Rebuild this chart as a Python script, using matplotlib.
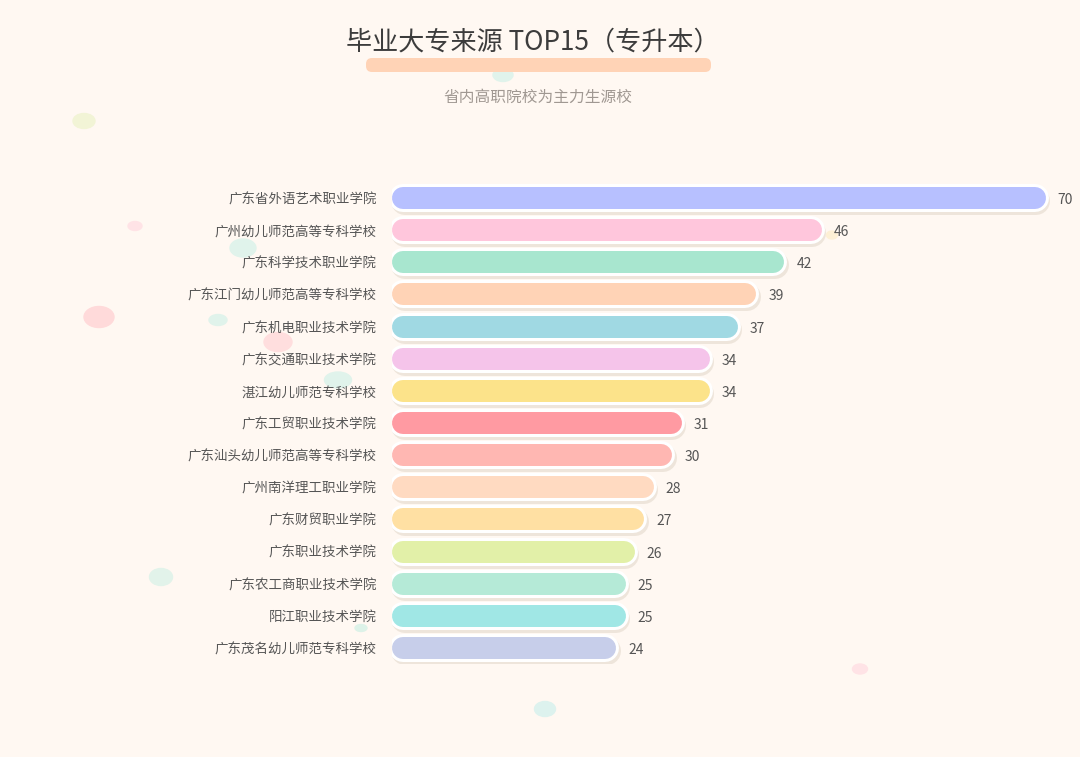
import numpy as np
import matplotlib
matplotlib.use("Agg")
import matplotlib.pyplot as plt
from matplotlib.patches import Ellipse, FancyBboxPatch

plt.rcParams['font.family'] = ['Noto Sans CJK SC', 'DejaVu Sans']

# 数据
schools = [
    "广东省外语艺术职业学院", "广州幼儿师范高等专科学校", "广东科学技术职业学院",
    "广东江门幼儿师范高等专科学校", "广东机电职业技术学院", "广东交通职业技术学院",
    "湛江幼儿师范专科学校", "广东工贸职业技术学院", "广东汕头幼儿师范高等专科学校",
    "广州南洋理工职业学院", "广东财贸职业学院", "广东职业技术学院",
    "广东农工商职业技术学院", "阳江职业技术学院", "广东茂名幼儿师范专科学校",
]
counts = [70, 46, 42, 39, 37, 34, 34, 31, 30, 28, 27, 26, 25, 25, 24]
bar_colors = [
    "#B7C0FF", "#FFC6DC", "#A8E6CF", "#FFD3B6", "#A0D9E3", "#F5C4EA",
    "#FCE38A", "#FF9AA2", "#FFB7B2", "#FFDAC1", "#FFE0A3", "#E2F0A8",
    "#B5EAD7", "#A0E7E5", "#C7CEEA",
]

title = "毕业大专来源 TOP15（专升本）"
subtitle = "省内高职院校为主力生源校"

BG = "#FFF8F2"
W, H = 1080, 757
fig = plt.figure(figsize=(W / 100, H / 100), dpi=100, facecolor=BG)

# 背景装饰层（像素坐标）
bg = fig.add_axes([0, 0, 1, 1], zorder=0)
bg.set_xlim(0, W)
bg.set_ylim(H, 0)
bg.axis("off")
bg.set_facecolor(BG)

bubbles = [
    (503, 75, 20, 13, "#E0F3EB"), (84, 121, 22, 15, "#F2F4D6"),
    (135, 226, 14, 9, "#FFE3E6"), (243, 248, 26, 18, "#E0F3EB"),
    (99, 317, 30, 21, "#FFDADA"), (218, 320, 18, 11, "#E0F3EB"),
    (278, 342, 28, 19, "#FFDEDE"), (338, 380, 27, 16, "#E0F3EB"),
    (832, 235, 11, 8, "#FDF0D5"), (161, 577, 23, 17, "#E2F3EA"),
    (860, 669, 15, 10, "#FFE3E6"), (545, 709, 21, 15, "#DDF2EE"),
    (361, 628, 12, 7, "#DDF2E8"),
]
for x, y, w, h, c in bubbles:
    bg.add_patch(Ellipse((x, y), w, h, facecolor=c, edgecolor=c, lw=1, zorder=1))

bg.add_patch(FancyBboxPatch((366, 58), 345, 14, boxstyle="round,pad=0,rounding_size=6",
                            facecolor="#FFD3B6", edgecolor="none", zorder=2))
bg.text(533, 42, title, ha="center", va="center", fontsize=18.8, color="#3C3C3C", zorder=3)
bg.text(538, 97, subtitle, ha="center", va="center", fontsize=11.3, color="#A09892", zorder=3)

# 主图
px_per_unit = 9.34
x_max = 73
left_px, top_px, bottom_px = 392, 182, 664
ax = fig.add_axes([left_px / W, 1 - bottom_px / H, x_max * px_per_unit / W,
                   (bottom_px - top_px) / H], zorder=1)
ax.set_facecolor("none")
ax.set_xlim(0, x_max)
ax.set_ylim(len(counts) - 0.5, -0.5)
for s in ax.spines.values():
    s.set_visible(False)
ax.set_xticks([])
ax.set_yticks(range(len(schools)))
ax.set_yticklabels(schools, fontsize=9.7, color="#555555")
ax.tick_params(axis="y", length=0, pad=11)

r_px = 11
r = r_px / px_per_unit
row_px = (bottom_px - top_px) / len(counts)
shadow_dy = 3 / row_px
shadow_dx = 1.5 / px_per_unit
for i, (v, c) in enumerate(zip(counts, bar_colors)):
    ax.plot([r + shadow_dx, v - r + shadow_dx], [i + shadow_dy, i + shadow_dy], color="#EEE5DB",
            lw=28 * 0.72, solid_capstyle="round", zorder=2)
    ax.plot([r, v - r], [i, i], color="white", lw=28 * 0.72, solid_capstyle="round", zorder=3)
    ax.plot([r, v - r], [i, i], color=c, lw=22 * 0.72, solid_capstyle="round", zorder=4)
    ax.text(v + 12 / px_per_unit, i + 2 / row_px, str(v), ha="left", va="center", fontsize=10,
            color="#555555", zorder=5, clip_on=False)

fig.savefig("out.png", dpi=100, facecolor=BG)
